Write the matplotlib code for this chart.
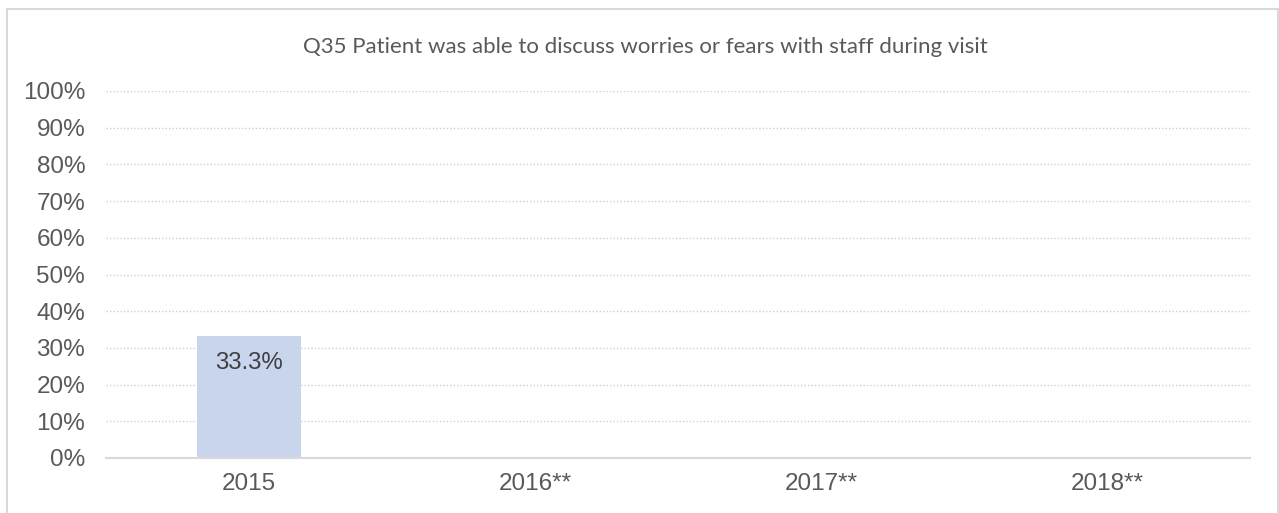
import matplotlib
matplotlib.use("Agg")
import matplotlib.pyplot as plt
from matplotlib.patches import Rectangle
from matplotlib.ticker import FuncFormatter

categories = ["2015", "2016**", "2017**", "2018**"]
values = [33.3, None, None, None]
title = "Q35 Patient was able to discuss worries or fears with staff during visit"

W, H = 1279, 513
fig = plt.figure(figsize=(W / 100, H / 100), dpi=100)
fig.patch.set_facecolor("white")

# outer chart border
fig.patches.append(Rectangle((7 / W, -0.05), (1278 - 7) / W, (H - 9) / H + 0.05,
                             transform=fig.transFigure, fill=False,
                             edgecolor="#d9d9d9", linewidth=1.5))

ax = fig.add_axes([106 / W, (H - 458) / H, (1250 - 106) / W, (458 - 91) / H])
text_color = "#595959"

xs = list(range(len(categories)))
for x, v in zip(xs, values):
    if v is not None:
        ax.bar(x, v, width=0.367, color="#c9d5ed", zorder=2)
        ax.text(x, v - 7.4, f"{v:.1f}%", ha="center", va="center",
                fontsize=17.3, color="#404040", family="Liberation Sans", zorder=3)

ax.set_xlim(-0.5, len(categories) - 0.5)
ax.set_ylim(0, 100)
ax.set_yticks(range(0, 101, 10))
ax.yaxis.set_major_formatter(FuncFormatter(lambda v, p: f"{int(v)}%"))
ax.set_xticks(xs)
ax.set_xticklabels(categories)

for t in ax.get_yticklabels() + ax.get_xticklabels():
    t.set_family("Liberation Sans")
    t.set_fontsize(17.5)
    t.set_color(text_color)

ax.tick_params(axis="both", length=0)
ax.tick_params(axis="y", pad=15)
ax.tick_params(axis="x", pad=11)

ax.grid(axis="y", linestyle=(0, (1, 1.5)), color="#d0d0d0", linewidth=1.0, zorder=0)
for side in ["top", "right", "left"]:
    ax.spines[side].set_visible(False)
ax.spines["bottom"].set_color("#d9d9d9")
ax.spines["bottom"].set_linewidth(1.5)
ax.spines["bottom"].set_zorder(3)

fig.text((306 + 985) / 2 / W, 1 - 47 / H, title, ha="center", va="center",
         fontsize=16, color=text_color, family="Lato")

fig.savefig("out.png", dpi=100, facecolor="white")
